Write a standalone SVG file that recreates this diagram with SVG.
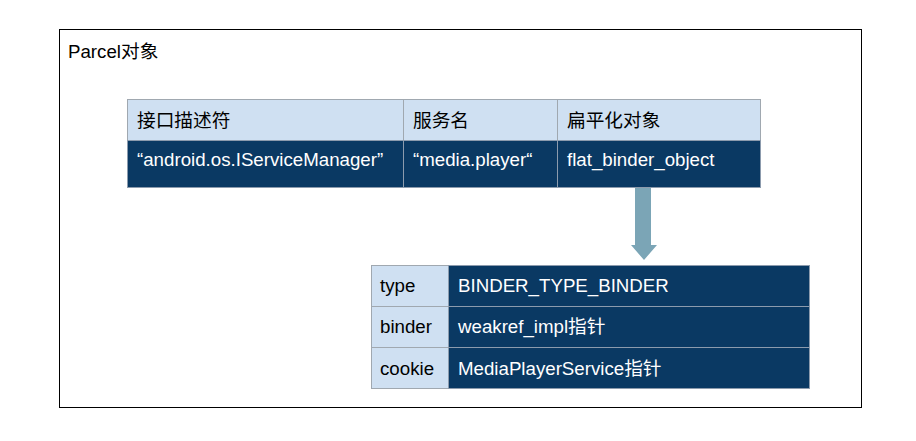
<svg xmlns="http://www.w3.org/2000/svg" width="916" height="441" viewBox="0 0 916 441">
<style>
text{font-family:"Liberation Sans","Noto Sans CJK SC",sans-serif;font-size:18.7px}
.hd{fill:#CFE0F2;stroke:#A0A8B0;stroke-width:1}
.dk{fill:#0A3963;stroke:#8C9BAD;stroke-width:1}
.lt{fill:#000}
.wt{fill:#fff}
</style>
<rect width="916" height="441" fill="#fff"/>
<g id="parcel">
<rect x="59.5" y="29.5" width="802" height="378" fill="#fff" stroke="#000" stroke-width="1"/>
<text x="68" y="58" class="lt">Parcel对象</text>
</g>
<g id="top-table">
<rect class="hd" x="127.5" y="99.5" width="276" height="41"/>
<rect class="hd" x="403.5" y="99.5" width="154" height="41"/>
<rect class="hd" x="557.5" y="99.5" width="203" height="41"/>
<rect class="dk" x="127.5" y="140.5" width="276" height="47"/>
<rect class="dk" x="403.5" y="140.5" width="154" height="47"/>
<rect class="dk" x="557.5" y="140.5" width="203" height="47"/>
<text x="137" y="127" class="lt">接口描述符</text>
<text x="413" y="127" class="lt">服务名</text>
<text x="567" y="127" class="lt">扁平化对象</text>
<text x="137" y="166" class="wt">“android.os.IServiceManager”</text>
<text x="413" y="166" class="wt">“media.player“</text>
<text x="567" y="166" class="wt">flat_binder_object</text>
</g>
<g id="connectors">
<polygon points="635,188 651,188 651,245 657,245 644,260 631,245 635,245" fill="#7BA5B6"/>
</g>
<g id="bottom-table">
<rect class="hd" x="371.5" y="265.5" width="77" height="41"/>
<rect class="hd" x="371.5" y="306.5" width="77" height="41"/>
<rect class="hd" x="371.5" y="347.5" width="77" height="41"/>
<rect class="dk" x="448.5" y="265.5" width="361" height="41"/>
<rect class="dk" x="448.5" y="306.5" width="361" height="41"/>
<rect class="dk" x="448.5" y="347.5" width="361" height="41"/>
<text x="380" y="292" class="lt">type</text>
<text x="380" y="333" class="lt">binder</text>
<text x="380" y="375" class="lt">cookie</text>
<text x="458" y="292" class="wt">BINDER_TYPE_BINDER</text>
<text x="458" y="333" class="wt">weakref_impl指针</text>
<text x="458" y="375" class="wt">MediaPlayerService指针</text>
</g>
</svg>
